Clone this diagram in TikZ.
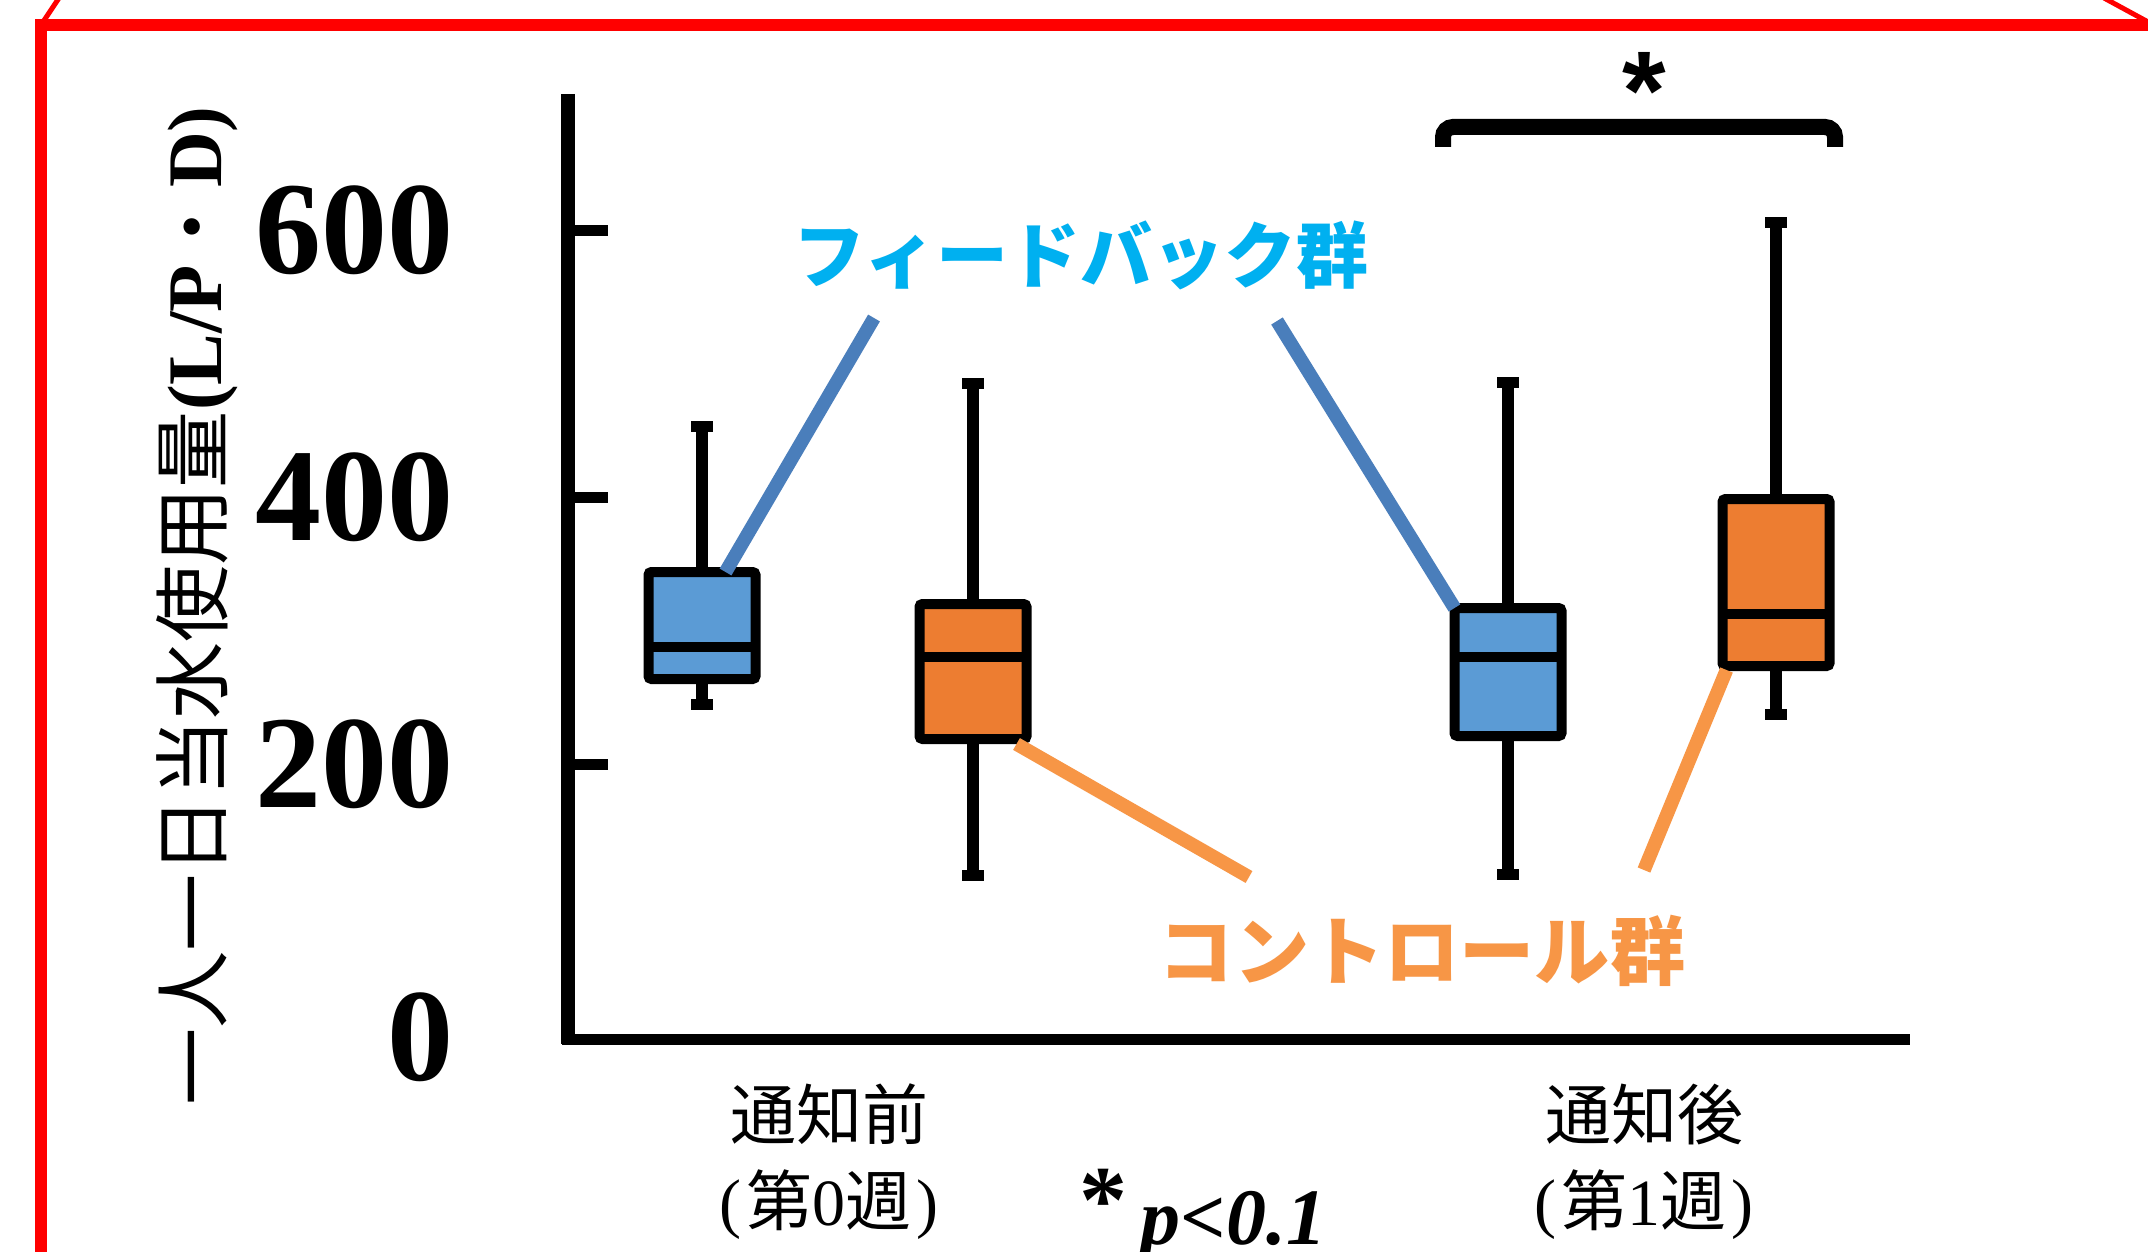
\documentclass[tikz,border=0pt]{standalone}
\usepackage{fontspec}
\setmainfont{Liberation Serif}
\setsansfont{Liberation Sans}
\newfontfamily\cjk{Noto Sans CJK JP}
\usetikzlibrary{calc}
\definecolor{fbfill}{HTML}{5B9BD5}
\definecolor{ctfill}{HTML}{ED7D31}
\definecolor{fbline}{HTML}{4A7EBB}
\definecolor{ctline}{HTML}{F79646}
\definecolor{fbtext}{HTML}{00B0F0}
\definecolor{cttext}{HTML}{F79646}
\definecolor{framered}{HTML}{FF0000}
\newcommand\bxp[8]{%
  \draw[capl] (#2-11,#3) -- (#2+11,#3);
  \draw[capl] (#2-11,#7) -- (#2+11,#7);
  \node[bxs, fill=#8, minimum height={(#6-#4-10)*0.5pt}] (#1) at (#2,{(#4+#6)/2}) {};
  \draw[whisk] (#2,#3) -- (#1.north);
  \draw[whisk] (#1.south) -- (#2,#7);
  \draw[medl] (#2-53.5,#5) -- (#2+53.5,#5);
}
\begin{document}
\begin{tikzpicture}[x=0.5pt,y=-0.5pt,
  bxs/.style={draw=black, line width=5pt, rounded corners=1.5pt, minimum width=53.5pt, inner sep=0pt, outer sep=0pt},
  whisk/.style={line width=6pt},
  capl/.style={line width=5.5pt},
  medl/.style={line width=5pt},
  conn/.style={line width=6.8pt},
  tickl/.style={line width=5.5pt},
  ticklab/.style={font=\fontsize{66}{66}\selectfont\bfseries, anchor=east, inner sep=0pt},
  grp/.style={font=\cjk\fontsize{36}{36}\selectfont\bfseries, inner sep=0pt},
  xlab/.style={align=center, font=\fontsize{33}{43}\selectfont, inner sep=0pt},
  frm/.style={draw=framered}
]
\useasboundingbox (0,0) rectangle (2148,1252);
\fill[white] (0,0) rectangle (2148,1252);

% red frame
\draw[frm, line width=5.75pt] (41,1270) -- (41,25) -- (2170,25);
\draw[frm, line width=2.5pt] (41,25) -- (59,-2);
\draw[frm, line width=2.5pt] (2150,23) -- (2104,-2);

% axes
\draw[line width=7pt] (568,94) -- (568,1044);
\draw[line width=5.5pt] (562,1039) -- (1910,1039);
\draw[tickl] (572,230) -- (608,230);
\draw[tickl] (572,497) -- (608,497);
\draw[tickl] (572,764) -- (608,764);

% tick labels
\node[ticklab] (t600) at (454,230) {600};
\node[ticklab] (t400) at (454,497) {400};
\node[ticklab] (t200) at (454,764) {200};
\node[ticklab] (t0) at (454,1037) {0};

% y label
\node[rotate=90, inner sep=0pt, font=\fontsize{38.6}{38.6}\selectfont] (ylab) at (197,606)
  {{\cjk 一人一日当水使用量}\textbf{(L/P}{\cjk ・}\textbf{D)}};

% boxes
\bxp{b1}{702}{426}{567}{647}{684}{704}{fbfill}
\bxp{b2}{973}{383}{599}{657}{744}{875}{ctfill}
\bxp{b3}{1508}{382}{603}{657}{741}{874}{fbfill}
\bxp{b4}{1776}{222}{494}{614}{671}{714}{ctfill}

% group labels
\node[grp, text=fbtext] (fb) at (1081,255) {フィードバック群};
\node[grp, text=cttext, font=\cjk\fontsize{37.6}{37.6}\selectfont\bfseries] (ct) at (1422,951) {コントロール群};

% connectors
\coordinate (fbA) at (874,318);
\coordinate (fbB) at (1277,321);
\coordinate (ctA) at (1249,877);
\coordinate (ctB) at (1644,870);
\draw[conn, fbline] (fbA) -- ($(b1.north west)!0.72!(b1.north east)$);
\draw[conn, fbline] (fbB) -- (b3.north west);
\draw[conn, ctline] ([xshift=-5pt,yshift=-2.5pt]b2.south east) -- (ctA);
\draw[conn, ctline] (ctB) -- ([xshift=2pt,yshift=-2pt]b4.south west);

% significance bracket
\draw[line width=8pt, rounded corners=5pt] (1443,147) -- (1443,127) -- (1835,127) -- (1835,147);
\node[font=\sffamily\bfseries\fontsize{56}{56}\selectfont, anchor=base, inner sep=0pt] (sig) at (1644,130) {*};

% x labels
\node[xlab] (xl1) at (829,1162) {{\cjk 通知前}\\(\hspace{0.08em}{\cjk 第}0{\cjk 週}\hspace{0.08em})};
\node[xlab] (xl2) at (1644,1162) {{\cjk 通知後}\\(\hspace{0.08em}{\cjk 第}1{\cjk 週}\hspace{0.08em})};

% p-value note
\node[font=\fontsize{48}{48}\selectfont\bfseries, anchor=base, inner sep=0pt] (ast) at (1103,1232) {*};
\node[font=\fontsize{40}{40}\selectfont\bfseries\itshape, anchor=base west, inner sep=0pt] (pval) at (1140,1244) {p<0.1};
\end{tikzpicture}
\end{document}
